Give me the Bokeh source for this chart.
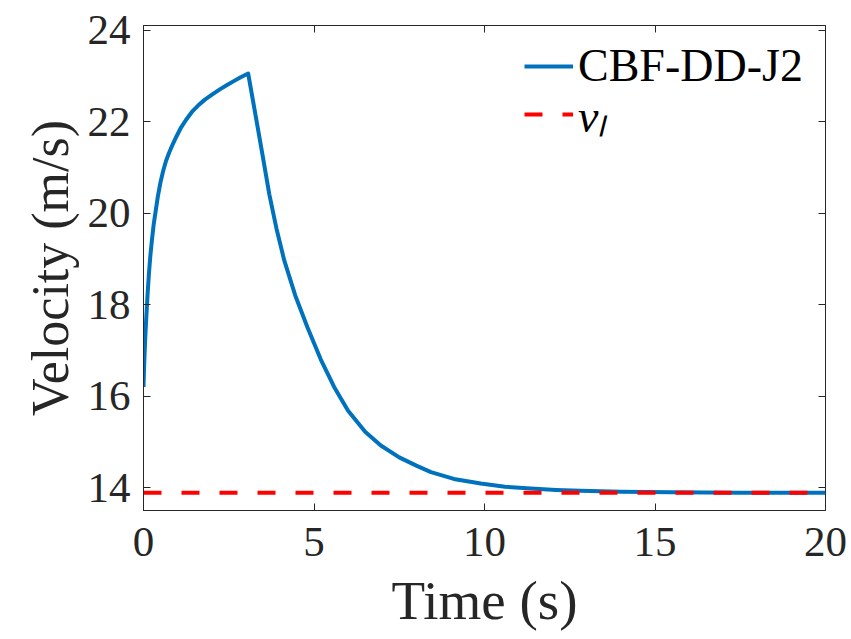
from bokeh.plotting import figure
from bokeh.models import Range1d, FixedTicker, LinearAxis, Legend, LegendItem
from bokeh.embed import file_html
from bokeh.resources import INLINE

# ---- data ----
time_cbf = [0.00, 0.02, 0.05, 0.08, 0.12, 0.16, 0.20, 0.25, 0.30, 0.36, 0.42, 0.50,
            0.58, 0.66, 0.75, 0.85, 0.97, 1.10, 1.25, 1.44, 1.60, 1.80, 2.03, 2.25,
            2.45, 2.66, 2.85, 3.07,
            3.20, 3.35, 3.50, 3.69, 3.90, 4.13, 4.45, 4.81, 5.20, 5.59, 6.00, 6.50,
            6.96, 7.50, 8.00, 8.43, 9.10, 9.89, 10.60, 11.36, 12.10, 12.82, 14.00,
            15.50, 17.50, 20.00]
vel_cbf = [16.20, 16.70, 17.25, 17.70, 18.23, 18.68, 19.06, 19.43, 19.76, 20.06, 20.36, 20.68,
           20.93, 21.14, 21.32, 21.49, 21.68, 21.87, 22.04, 22.23, 22.35, 22.48, 22.60, 22.71,
           22.80, 22.89, 22.97, 23.05,
           22.50, 21.87, 21.23, 20.41, 19.66, 18.96, 18.20, 17.50, 16.80, 16.20, 15.68, 15.22,
           14.92, 14.66, 14.48, 14.34, 14.19, 14.09, 14.02, 13.98, 13.95, 13.93, 13.91,
           13.90, 13.89, 13.89]
time_vl = [0.0, 20.0]
vel_vl = [13.89, 13.89]
series_labels = ["CBF-DD-J2", "v\u2097"]
x_ticks = [0, 5, 10, 15, 20]
y_ticks = [14, 16, 18, 20, 22, 24]
x_label = "Time (s)"
y_label = "Velocity (m/s)"

AX = "#262626"
FONT = "Liberation Serif"

p = figure(width=851, height=639, output_backend="svg", toolbar_location=None,
           x_range=Range1d(0, 20), y_range=Range1d(13.5, 24.1),
           min_border_left=143, min_border_right=26, min_border_top=25,
           min_border_bottom=129)
p.grid.visible = False
p.background_fill_color = "white"
p.border_fill_color = "white"
p.outline_line_color = AX
p.outline_line_width = 1

r1 = p.line(time_cbf, vel_cbf, line_color="#0072BD", line_width=4, line_join="round")
r2 = p.line(time_vl, vel_vl, line_color="#FF0000", line_width=4, line_dash="18 20")


def style_axis(ax, ticks, labels=True):
    ax.ticker = FixedTicker(ticks=ticks)
    ax.major_tick_in = 7
    ax.major_tick_out = 0
    ax.minor_tick_line_color = None
    ax.major_tick_line_color = AX
    ax.major_tick_line_width = 1
    ax.axis_line_color = AX
    ax.major_label_text_font = FONT
    ax.major_label_text_color = AX
    if labels:
        ax.major_label_text_font_size = "43px"
        ax.axis_label_text_font = FONT
        ax.axis_label_text_font_style = "normal"
        ax.axis_label_text_color = AX
    else:
        ax.major_label_text_font_size = "0px"
        ax.major_label_text_color = None
        ax.major_label_standoff = 0
        ax.axis_line_color = None


xa = p.xaxis[0]
ya = p.yaxis[0]
style_axis(xa, x_ticks)
style_axis(ya, y_ticks)
xa.axis_label = x_label
ya.axis_label = y_label
xa.axis_label_text_font_size = "55px"
ya.axis_label_text_font_size = "52px"
xa.major_label_standoff = 17
xa.axis_label_standoff = 11
ya.major_label_standoff = 13
ya.axis_label_standoff = 6

top_ax = LinearAxis()
right_ax = LinearAxis()
style_axis(top_ax, x_ticks, labels=False)
style_axis(right_ax, y_ticks, labels=False)
p.add_layout(top_ax, "above")
p.add_layout(right_ax, "right")

leg1 = Legend(items=[LegendItem(label=series_labels[0], renderers=[r1])],
              location=(381, 418))
leg2 = Legend(items=[LegendItem(label=series_labels[1], renderers=[r2])],
              location=(381, 365), label_text_font_style="italic")
for leg in (leg1, leg2):
    leg.border_line_color = None
    leg.background_fill_alpha = 0
    leg.padding = 0
    leg.margin = 0
    leg.spacing = 0
    leg.glyph_width = 49
    leg.glyph_height = 50
    leg.label_height = 50
    leg.label_standoff = 5
    leg.label_text_font = FONT
    leg.label_text_font_size = "46px"
    leg.label_text_color = "black"
    p.add_layout(leg)

open("out.html", "w").write(file_html(p, INLINE))
